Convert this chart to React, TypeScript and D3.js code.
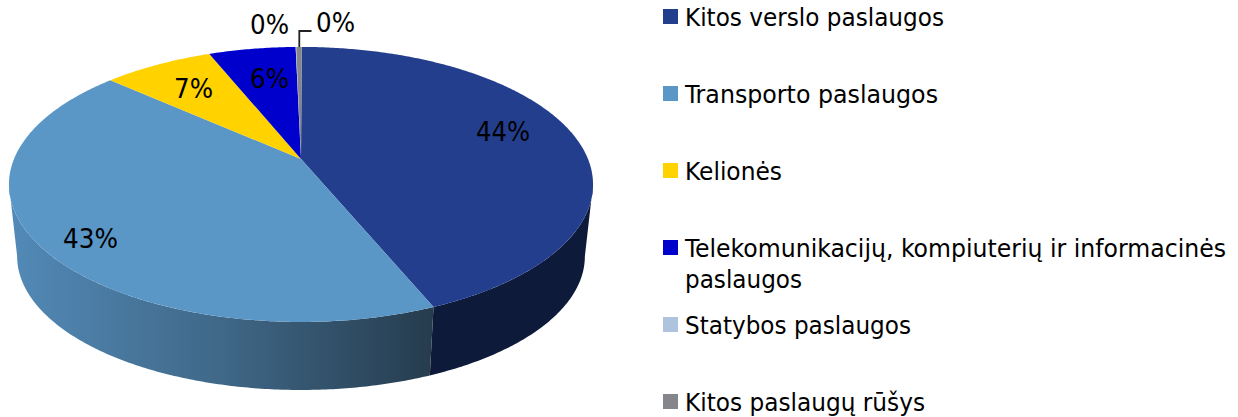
import React from "react";
import * as d3 from "d3";

const categories = ["Kitos verslo paslaugos", "Transporto paslaugos", "Kelionės", "Telekomunikacijų, kompiuterių ir informacinės paslaugos", "Statybos paslaugos", "Kitos paslaugų rūšys"];
const values = [43.7, 42.85, 7.3, 5.75, 0.04, 0.36];
const pctLabels = ["44%", "43%", "7%", "6%", "0%", "0%"];
const colors = ["#243e8e", "#5a96c6", "#ffd200", "#0000cd", "#adc3de", "#85868c"];
const wallColors = ["#0e1a3a", "url(#wallTransport)", "#8a7000", "#000070", "#5a6a7a", "#444444"];

const apex = { x: 301, y: 159 };
const A = 287, B = 132.8, P = 0.185;
const depthScale = 0.972, depthDy = 72.6;
const rotation = 0.003;

const project = (theta: number, lower = false) => {
  const w = 1 + P * Math.cos(theta);
  const u = (A * Math.sin(theta)) / w;
  const v = (-B * Math.cos(theta)) / w;
  return lower
    ? [apex.x + u * depthScale, apex.y + v * depthScale + depthDy]
    : [apex.x + u, apex.y + v];
};

const pieGen = d3.pie<number>().sort(null).value((d) => d).startAngle(rotation).endAngle(2 * Math.PI + rotation);
const arcs = pieGen(values);
const line = d3.line();

const sampleAngles = (a: number, b: number) => {
  const n = Math.max(2, Math.ceil((b - a) / 0.01));
  return d3.range(n + 1).map((i) => a + ((b - a) * i) / n);
};

const frontStart = Math.acos(-P);
const frontEnd = 2 * Math.PI - frontStart;

const topPath = (a: number, b: number) =>
  line([[apex.x, apex.y], ...sampleAngles(a, b).map((t) => project(t) as [number, number])]) + "Z";

const wallPath = (a: number, b: number) => {
  const s = Math.max(a, frontStart), e = Math.min(b, frontEnd);
  if (e <= s) return null;
  const ts = sampleAngles(s, e);
  const up = ts.map((t) => project(t) as [number, number]);
  const low = ts.slice().reverse().map((t) => project(t, true) as [number, number]);
  return line([...up, ...low]) + "Z";
};

const labelPos = [[503, 131, 54], [90.5, 238, 55], [193.5, 88, 39], [269.5, 78, 39], [269.5, 24, 39], [335.5, 22, 39]];
const legendRows = [
  { y: 9, lines: [[26, 259]] },
  { y: 86, lines: [[103, 253]] },
  { y: 163, lines: [[180, 97]] },
  { y: 240, lines: [[257, 541], [288, 117]] },
  { y: 317, lines: [[334, 226]] },
  { y: 394, lines: [[411, 240]] },
];
const legendText = [
  ["Kitos verslo paslaugos"],
  ["Transporto paslaugos"],
  ["Kelionės"],
  ["Telekomunikacijų, kompiuterių ir informacinės", "paslaugos"],
  ["Statybos paslaugos"],
  ["Kitos paslaugų rūšys"],
];
const font = { fontFamily: "'DejaVu Sans'", fontStretch: "condensed", fill: "#000" };

export default function App() {
  return (
    <svg width={1238} height={417} style={{ position: "absolute", left: 0, top: 0 }}>
      <defs>
        <linearGradient id="wallTransport" gradientUnits="userSpaceOnUse" x1={15} x2={432} y1={0} y2={0}>
          <stop offset="0" stopColor="#5289b6" />
          <stop offset="0.5" stopColor="#3f6787" />
          <stop offset="1" stopColor="#263c4e" />
        </linearGradient>
      </defs>
      {arcs.map((a, i) => {
        const d = wallPath(a.startAngle, a.endAngle);
        return d ? <path key={i} d={d} fill={wallColors[i]} /> : null;
      })}
      {arcs.map((a, i) => (
        <path key={i} d={topPath(a.startAngle, a.endAngle)} fill={colors[i]} />
      ))}
      <path d="M299.3,47V31H311.5" fill="none" stroke="#222" strokeWidth={1.8} />
      {pctLabels.map((t, i) => (
        <text key={i} x={labelPos[i][0]} y={labelPos[i][1]} textAnchor="middle" dominantBaseline="central" textLength={labelPos[i][2]} lengthAdjust="spacingAndGlyphs" fontSize={27} {...font}>{t}</text>
      ))}
      {categories.map((c, i) => (
        <g key={c}>
          <rect x={663} y={legendRows[i].y} width={15} height={15} fill={colors[i]} />
          {legendRows[i].lines.map((l, j) => (
            <text key={j} x={685} y={l[0]} textLength={l[1]} lengthAdjust="spacingAndGlyphs" fontSize={25} {...font}>{legendText[i][j]}</text>
          ))}
        </g>
      ))}
    </svg>
  );
}
